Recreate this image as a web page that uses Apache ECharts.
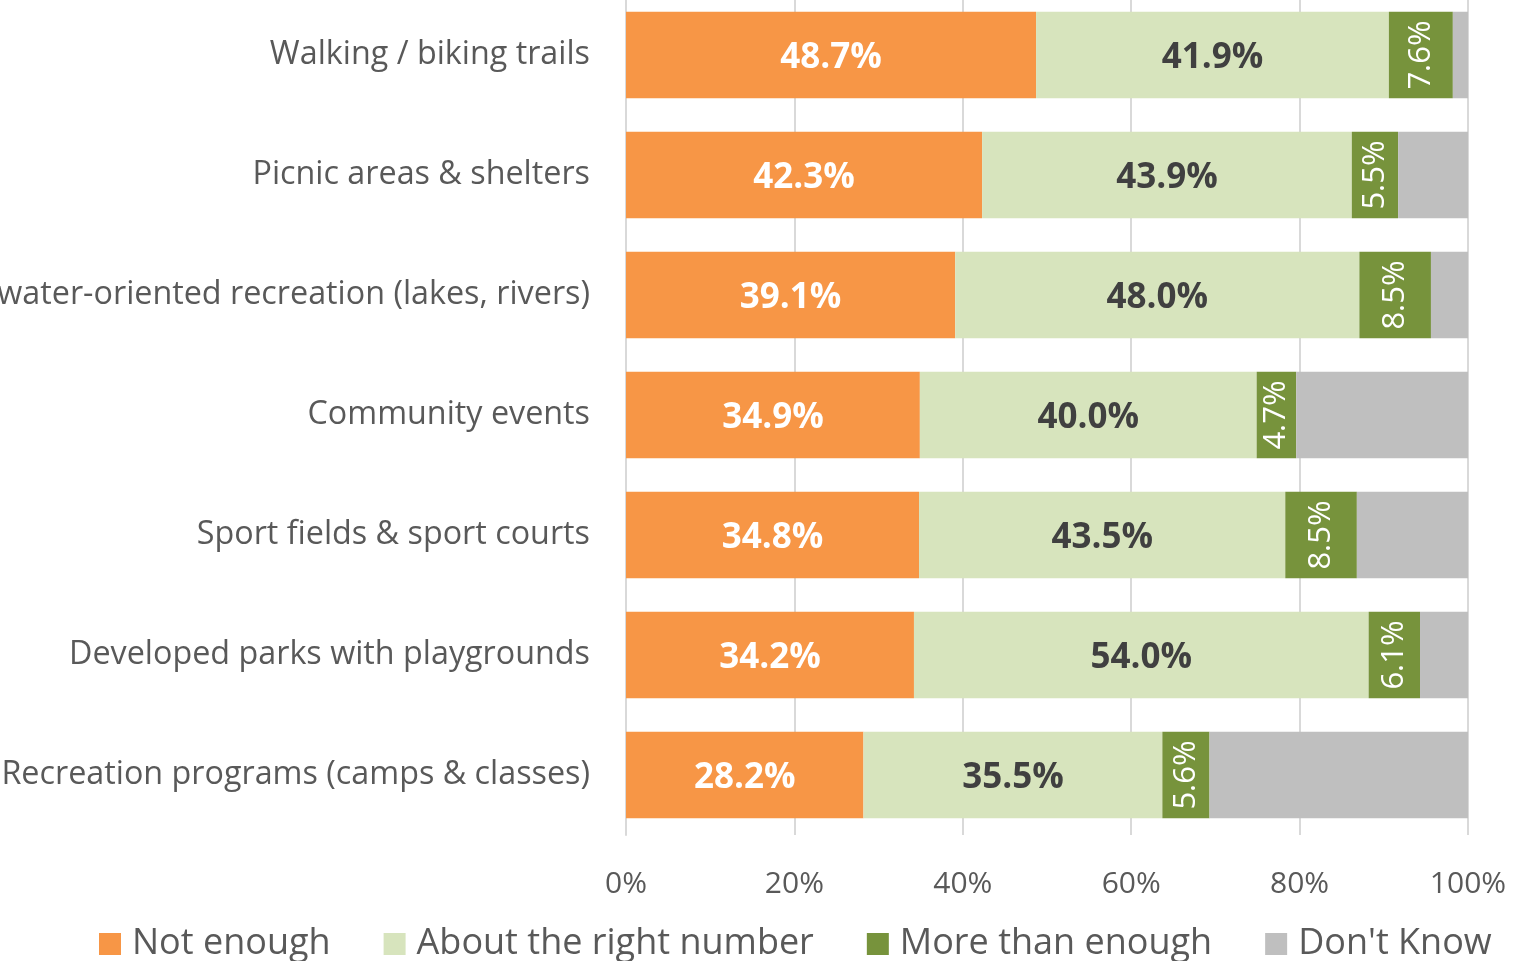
<!DOCTYPE html>
<html>
<head>
<meta charset="utf-8">
<script src="https://cdn.jsdelivr.net/npm/echarts@6/dist/echarts.min.js"></script>
<style>
html, body { margin: 0; padding: 0; background: #fff; }
#box1 { width: 1514px; height: 961px; }
</style>
</head>
<body>
<div id="box1"></div>
<script>
// categories bottom -> top
var categories = [
    'Recreation programs (camps & classes)',
    'Developed parks with playgrounds',
    'Sport fields & sport courts',
    'Community events',
    'water-oriented recreation (lakes, rivers)',
    'Picnic areas & shelters',
    'Walking / biking trails'
];
var notEnough = [28.2, 34.2, 34.8, 34.9, 39.1, 42.3, 48.7];
var aboutRight = [35.5, 54.0, 43.5, 40.0, 48.0, 43.9, 41.9];
var moreThan = [5.6, 6.1, 8.5, 4.7, 8.5, 5.5, 7.6];
var dontKnow = [30.7, 5.7, 13.2, 20.4, 4.4, 8.3, 1.8];
var xTicks = [0, 20, 40, 60, 80, 100];

var dom = document.getElementById("box1");
var myChart = echarts.init(dom);
var font = '"Open Sans", sans-serif';

function pct(p) { return p.value.toFixed(1) + '%'; }

var option = {
    animation: false,
    textStyle: { fontFamily: font },
    color: ['#F79646', '#D7E4BD', '#77933C', '#BFBFBF'],
    grid: { left: 626, right: 46, top: -5, bottom: 126, outerBoundsMode: 'none' },
    legend: {
        bottom: -6,
        left: 94,
        itemWidth: 22,
        itemHeight: 22,
        itemGap: 53,
        icon: 'rect',
        textStyle: { fontSize: 36, color: '#595959', fontFamily: font, padding: [0, 0, 0, 6] },
        data: ['Not enough', 'About the right number', 'More than enough', "Don't Know"]
    },
    xAxis: {
        type: 'value',
        min: xTicks[0],
        max: xTicks[xTicks.length - 1],
        interval: 20,
        axisLine: { show: false },
        axisTick: { show: false },
        splitLine: { lineStyle: { color: '#D9D9D9', width: 2 } },
        axisLabel: { formatter: '{value}%', fontSize: 30, color: '#595959', margin: 34, fontFamily: font }
    },
    yAxis: {
        type: 'category',
        data: categories,
        axisLine: { lineStyle: { color: '#D9D9D9', width: 2 } },
        axisTick: { show: false },
        axisLabel: { fontSize: 32.3, color: '#595959', margin: 36, fontFamily: font }
    },
    series: [
        {
            name: 'Not enough', type: 'bar', stack: 'all', data: notEnough,
            barCategoryGap: '28%',
            label: { show: true, position: 'inside', offset: [0, 3], formatter: pct, color: '#fff', fontWeight: 'bold', fontSize: 35, fontFamily: font }
        },
        {
            name: 'About the right number', type: 'bar', stack: 'all', data: aboutRight,
            label: { show: true, position: 'inside', offset: [0, 3], formatter: pct, color: '#404040', fontWeight: 'bold', fontSize: 35, fontFamily: font }
        },
        {
            name: 'More than enough', type: 'bar', stack: 'all', data: moreThan,
            label: { show: true, position: 'inside', rotate: 90, formatter: pct, color: '#fff', fontSize: 31, fontFamily: font }
        },
        {
            name: "Don't Know", type: 'bar', stack: 'all', data: dontKnow,
            label: { show: false }
        }
    ]
};

if (option && typeof option === "object") {
    myChart.setOption(option, true);
}
</script>
</body>
</html>
